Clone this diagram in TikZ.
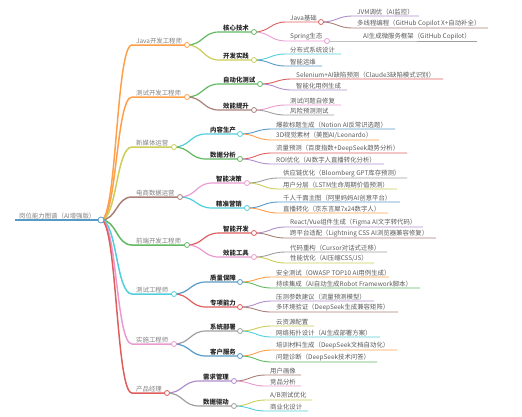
\documentclass[tikz,border=0pt]{standalone}
\usepackage{fontspec}
\setmainfont{Noto Sans CJK SC}
\usepackage{xcolor}
\usepackage{tikz}
\usetikzlibrary{positioning, calc}

\definecolor{mblue}{HTML}{1F77B4}
\definecolor{morange}{HTML}{FF7F0E}
\definecolor{mgreen}{HTML}{2CA02C}
\definecolor{mred}{HTML}{D62728}
\definecolor{mpurple}{HTML}{9467BD}
\definecolor{mbrown}{HTML}{8C564B}
\definecolor{mpink}{HTML}{E377C2}
\definecolor{mgray}{HTML}{7F7F7F}
\definecolor{molive}{HTML}{BCBD22}
\definecolor{mcyan}{HTML}{17BECF}

\pgfdeclarelayer{fg}
\pgfsetlayers{main,fg}

\begin{document}
\begin{tikzpicture}[
    x=1pt, y=-1pt,
    lbl/.style={anchor=south west, inner sep=1pt,
        font=\fontsize{6.4}{7}\selectfont, text=black!65},
    top/.style={lbl, text=black!50},
    head/.style={lbl, font=\fontsize{6.4}{7}\selectfont\bfseries, text=black!85},
    dot/.style={circle, draw=#1!75, fill=white, line width=0.8pt,
        inner sep=0pt, minimum size=5pt},
    edge0/.style={draw=#1!75, line width=2pt},
    edge1/.style={draw=#1!75, line width=1.5pt},
    edge2/.style={draw=#1!75, line width=1.2pt},
    edge3/.style={draw=#1!75, line width=0.9pt}
]
    \useasboundingbox (0,0) rectangle (522,416);

    % root
    \coordinate (root-s) at (15,220);
    \coordinate (root) at (101,220);
    \draw[edge0=mblue] (root-s) -- (root);
    \node[top] (root-t) at ([xshift=3pt]root-s) {岗位能力图谱（AI增强版）};
    \begin{pgfonlayer}{fg}
        \node[dot=mblue, minimum size=6pt] (root-o) at (root) {};
    \end{pgfonlayer}

    % roles
    \foreach \n/\p/\a/\b/\y/\c/\t in {
        jav/root/132/187/45/morange/Java开发工程师,
        tdev/root/132/187/97/morange/测试开发工程师,
        media/root/132/174/147/molive/新媒体运营,
        ecom/root/132/180/197/mbrown/电商数据运营,
        fe/root/132/187/245/mgreen/前端开发工程师,
        qa/root/132/174/294/mcyan/测试工程师,
        impl/root/132/174/344/mpink/实施工程师,
        pm/root/132/167/393/mred/产品经理}
    {
        \coordinate (\n-s) at (\a,\y);
        \coordinate (\n) at (\b,\y);
        \draw[edge1=\c] (\p) .. controls +(16,0) and +(-16,0) .. (\n-s) -- (\n);
        \node[top] (\n-t) at ([xshift=3pt]\n-s) {\t};
        \begin{pgfonlayer}{fg}
            \node[dot=\c] (\n-o) at (\n) {};
        \end{pgfonlayer}
    }

    % skill groups
    \foreach \n/\p/\a/\b/\y/\c/\t in {
        core/jav/219/254/32/mgreen/核心技术,
        prac/jav/219/254/60/molive/开发实践,
        auto/tdev/219/260/84/mgreen/自动化测试,
        eff/tdev/219/254/110/mbrown/效能提升,
        cont/media/206/240/134/mcyan/内容生产,
        anal/media/206/240/159/mgreen/数据分析,
        dec/ecom/212/247/183/mpink/智能决策,
        mkt/ecom/212/247/208/mcyan/精准营销,
        idev/fe/219/254/233/mred/智能开发,
        tool/fe/219/254/257/mpink/效能工具,
        qual/qa/206/240/282/mblue/质量保障,
        spec/qa/206/240/307/mred/专项能力,
        dep/impl/206/240/331/mgray/系统部署,
        cust/impl/206/240/356/mblue/客户服务,
        req/pm/199/234/381/mpurple/需求管理,
        drv/pm/199/234/406/mgray/数据驱动}
    {
        \coordinate (\n-s) at (\a,\y);
        \coordinate (\n) at (\b,\y);
        \draw[edge2=\c] (\p) .. controls +(16,0) and +(-16,0) .. (\n-s) -- (\n);
        \node[head] (\n-t) at ([xshift=3pt]\n-s) {\t};
        \begin{pgfonlayer}{fg}
            \node[dot=\c] (\n-o) at (\n) {};
        \end{pgfonlayer}
    }

    % java sub-groups (with children)
    \foreach \n/\p/\a/\b/\y/\c/\t in {
        jbase/core/286/321/22/mred/Java基础,
        spring/core/286/327/41/mpink/Spring生态}
    {
        \coordinate (\n-s) at (\a,\y);
        \coordinate (\n) at (\b,\y);
        \draw[edge3=\c] (\p) .. controls +(16,0) and +(-16,0) .. (\n-s) -- (\n);
        \node[lbl] (\n-t) at ([xshift=3pt]\n-s) {\t};
        \begin{pgfonlayer}{fg}
            \node[dot=\c] (\n-o) at (\n) {};
        \end{pgfonlayer}
    }

    % leaves
    \foreach \n/\p/\a/\b/\y/\c/\t in {
        jvm/jbase/353/419/16/mpurple/JVM调优（AI监控）,
        thread/jbase/353/488/28/mbrown/多线程编程（GitHub Copilot X+自动补全）,
        micro/spring/359/477/41/mgray/AI生成微服务框架（GitHub Copilot）,
        dist/prac/286/341/54/mcyan/分布式系统设计,
        ops/prac/286/322/66/mblue/智能运维,
        sel/auto/292/443/79/mred/Selenium+AI缺陷预测（Claude3缺陷模式识别）,
        case/auto/292/347/90/mpurple/智能化用例生成,
        fix/eff/286/341/105/mpink/测试问题自修复,
        risk/eff/286/334/115/mgray/风险预测测试,
        title/cont/272/395/129/mblue/爆款标题生成（Notion AI反常识选题）,
        vis/cont/272/379/140/morange/{3D视觉素材（美图AI/Leonardo）},
        flow/anal/272/407/153/mred/流量预测（百度指数+DeepSeek趋势分析）,
        roi/anal/272/384/164/mpurple/ROI优化（AI数字人直播转化分析）,
        supply/dec/279/407/178/mgray/供应链优化（Bloomberg GPT库存预测）,
        layer/dec/279/397/189/molive/用户分层（LSTM生命周期价值预测）,
        face/mkt/279/400/202/mblue/千人千面主图（阿里妈妈AI创意平台）,
        live/mkt/279/388/213/morange/直播转化（京东言犀7x24数字人）,
        react/idev/286/423/227/mpurple/{React/Vue组件生成（Figma AI文字转代码）},
        cross/idev/286/436/238/mbrown/跨平台适配（Lightning CSS AI浏览器兼容修复）,
        refac/tool/286/387/252/mgray/代码重构（Cursor对话式迁移）,
        perf/tool/286/374/263/molive/{性能优化（AI压缩CSS/JS）},
        sec/qual/272/389/277/morange/安全测试（OWASP TOP10 AI用例生成）,
        ci/qual/272/420/288/mgreen/持续集成（AI自动生成Robot Framework脚本）,
        press/spec/272/374/301/mpurple/压测参数建议（流量预测模型）,
        multi/spec/272/398/312/mbrown/多环境验证（DeepSeek生成兼容矩阵）,
        cloud/dep/272/314/326/molive/云资源配置,
        net/dep/272/380/337/mcyan/网络拓扑设计（AI生成部署方案）,
        train/cust/272/397/350/morange/培训材料生成（DeepSeek文档自动化）,
        diag/cust/272/377/362/mgreen/问题诊断（DeepSeek技术问答）,
        persona/req/266/301/375/mbrown/用户画像,
        comp/req/266/301/386/mpink/竞品分析,
        ab/drv/266/312/400/molive/{A/B测试优化},
        biz/drv/266/308/411/mcyan/商业化设计}
    {
        \coordinate (\n-s) at (\a,\y);
        \coordinate (\n) at (\b,\y);
        \draw[edge3=\c] (\p) .. controls +(16,0) and +(-16,0) .. (\n-s) -- (\n);
        \node[lbl] (\n-t) at ([xshift=3pt]\n-s) {\t};
    }
\end{tikzpicture}
\end{document}
